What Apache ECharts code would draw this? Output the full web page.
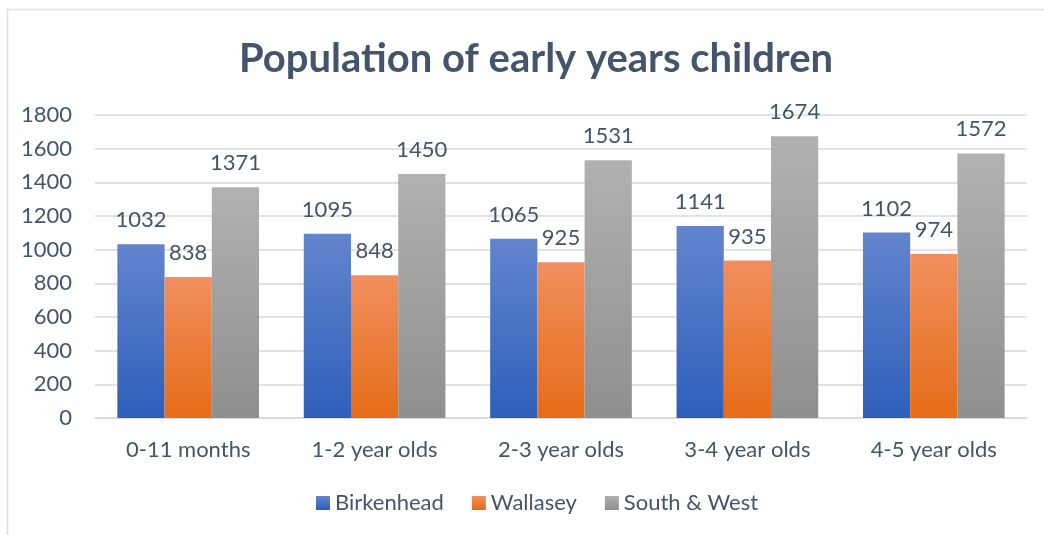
<!DOCTYPE html>
<html>
<head>
<meta charset="utf-8">
<script src="https://cdn.jsdelivr.net/npm/echarts@6/dist/echarts.min.js"></script>
<style>
html, body { margin: 0; padding: 0; background: #fff; }
#chart { width: 1044px; height: 535px; }
</style>
</head>
<body>
<div id="chart"></div>
<script>
// data
const categories = ['0-11 months', '1-2 year olds', '2-3 year olds', '3-4 year olds', '4-5 year olds']
const birkenhead = [1032, 1095, 1065, 1141, 1102]
const wallasey = [838, 848, 925, 935, 974]
const southWest = [1371, 1450, 1531, 1674, 1572]

const textColor = '#44546a'
const fontFam = 'Lato, "Open Sans", sans-serif'

function grad(top, bottom) {
  return new echarts.graphic.LinearGradient(0, 0, 0, 1, [
    { offset: 0, color: top },
    { offset: 1, color: bottom },
  ])
}

function barSeries(name, data, top, bottom) {
  return {
    name: name,
    type: 'bar',
    data: data,
    barGap: '0%',
    barCategoryGap: '24%',
    itemStyle: { color: grad(top, bottom) },
    label: {
      show: true,
      position: 'top',
      distance: 13,
      color: textColor,
      fontSize: 22,
      fontFamily: fontFam,
    },
  }
}

const chart = echarts.init(document.getElementById('chart'))
chart.setOption({
  animation: false,
  graphic: [{
    type: 'rect',
    shape: { x: 7.5, y: 9.5, width: 1100, height: 600 },
    style: { fill: 'none', stroke: '#dde0e6', lineWidth: 1.5 },
    z: -10,
  }],
  title: {
    text: 'Population of early years children',
    left: 234,
    top: 34,
    textStyle: {
      color: textColor,
      fontSize: 40,
      fontWeight: 'bold',
      fontFamily: fontFam,
    },
  },
  legend: {
    bottom: 16,
    left: 311,
    itemWidth: 14,
    itemHeight: 14,
    itemGap: 28,
    icon: 'rect',
    textStyle: { color: textColor, fontSize: 22, fontFamily: fontFam },
    data: ['Birkenhead', 'Wallasey', 'South & West'],
  },
  grid: { left: 95, right: 17, top: 115, bottom: 117 },
  xAxis: {
    type: 'category',
    data: categories,
    axisLine: { lineStyle: { color: '#d9d9d9', width: 1.5 } },
    axisTick: { show: false },
    axisLabel: { color: textColor, fontSize: 22, margin: 21, fontFamily: fontFam },
  },
  yAxis: {
    type: 'value',
    min: 0,
    max: 1800,
    interval: 200,
    axisLine: { show: false },
    axisTick: { show: false },
    splitLine: { lineStyle: { color: '#d9d9d9', width: 1.5 } },
    axisLabel: {
      color: textColor,
      fontSize: 22,
      margin: 23,
      fontFamily: fontFam,
      formatter: function (v) { return String(v) },
    },
  },
  series: [
    barSeries('Birkenhead', birkenhead, '#6384cd', '#2d5fba'),
    barSeries('Wallasey', wallasey, '#f18f5e', '#e56c18'),
    barSeries('South & West', southWest, '#b1b1b1', '#8f8f8f'),
  ],
})
</script>
</body>
</html>
